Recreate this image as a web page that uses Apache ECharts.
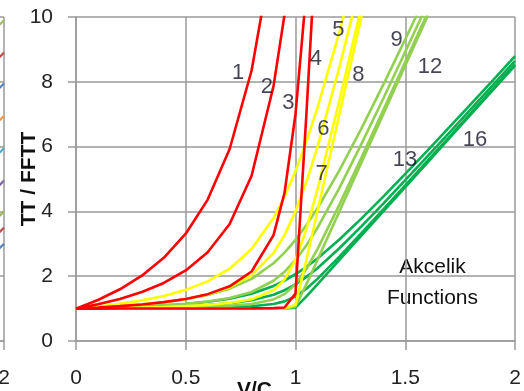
<!DOCTYPE html>
<html><head><meta charset="utf-8">
<script src="https://cdn.jsdelivr.net/npm/echarts@6/dist/echarts.min.js"></script>
<style>html,body{margin:0;padding:0;background:#fff}#c{width:524px;height:391px}</style>
</head><body><div id="c"></div>
<script>
// V/C sample points
const xs = [0,0.1,0.2,0.3,0.4,0.5,0.6,0.7,0.8,0.9,0.95,1.0,1.05,1.1,1.2,1.3,1.4,1.5,1.6,1.7,1.8,1.9,2.0];
// red group
const f1 = [1,1.266,1.596,2.016,2.566,3.311,4.364,5.926,8.349,12.18];
const f2 = [1,1.133,1.299,1.511,1.791,2.177,2.737,3.611,5.100,7.869,10.07,13.0];
const f3 = [1,1.033,1.075,1.128,1.199,1.299,1.446,1.687,2.145,3.270,4.573,7.0,10.84,15.7];
const f4 = [1,1.0,1.001,1.001,1.001,1.002,1.003,1.005,1.007,1.016,1.034,1.465,7.04,13.02];
// yellow group
const f5 = [1,1.067,1.149,1.254,1.391,1.578,1.841,2.231,2.837,3.795,4.453,5.243,6.162,7.196,9.532,12.107];
const f6 = [1,1.033,1.075,1.128,1.198,1.294,1.434,1.653,2.025,2.717,3.269,4.0,4.914,5.986,8.450,11.152];
const f7 = [1,1.008,1.019,1.032,1.050,1.075,1.111,1.172,1.286,1.568,1.893,2.5,3.460,4.674,7.421,10.314];
const f8 = [1,1.0,1.0,1.0,1.001,1.001,1.001,1.002,1.003,1.004,1.009,1.116,2.509,4.005,7.003,10.002,13.0];
// light green group
const f9  = [1,1.033,1.075,1.127,1.196,1.289,1.421,1.616,1.919,2.398,2.726,3.121,3.581,4.098,5.266,6.553,7.912,9.312,10.739];
const f10 = [1,1.017,1.037,1.064,1.099,1.147,1.217,1.326,1.512,1.859,2.134,2.5,2.957,3.493,4.725,6.076,7.486,8.926,10.384];
const f11 = [1,1.004,1.009,1.016,1.025,1.037,1.056,1.086,1.143,1.284,1.447,1.75,2.230,2.837,4.210,5.657,7.129,8.611,10.099];
const f12 = [1,1.0,1.0,1.0,1.0,1.0,1.001,1.001,1.001,1.002,1.004,1.058,1.755,2.502,4.001,5.501,7.001,8.501,10.0,11.5];
// dark green group
const f13 = [1,1.017,1.037,1.064,1.098,1.144,1.210,1.308,1.459,1.699,1.863,2.061,2.290,2.549,3.133,3.777,4.456,5.156,5.869,6.592,7.320,8.053,8.789];
const f14 = [1,1.008,1.019,1.032,1.049,1.074,1.109,1.163,1.256,1.429,1.567,1.75,1.979,2.246,2.862,3.538,4.243,4.963,5.692,6.426,7.164,7.905,8.647];
const f15 = [1,1.002,1.005,1.008,1.012,1.019,1.028,1.043,1.072,1.142,1.223,1.375,1.615,1.918,2.605,3.329,4.064,4.805,5.549,6.295,7.042,7.789,8.537];
const f16 = [1,1.0,1.0,1.0,1.0,1.0,1.0,1.0,1.001,1.001,1.002,1.029,1.377,1.751,2.501,3.250,4.0,4.750,5.5,6.25,7.0,7.75,8.5];

const curves = [f1,f2,f3,f4,f5,f6,f7,f8,f9,f10,f11,f12,f13,f14,f15,f16];
const groupColors = ['#FF0000','#FFFF00','#92D050','#00B050'];

// curve number labels
const labelText = ['1','2','3','4','5','6','7','8','9','12','13','16'];
const labelX = [0.739,0.869,0.967,1.093,1.195,1.127,1.119,1.286,1.461,1.613,1.499,1.818];
const labelY = [8.26,7.85,7.34,8.72,9.6,6.56,5.17,8.21,9.29,8.47,5.59,6.2];

const xTicks = ['0','0.5','1','1.5','2'];

// cropped neighbouring chart at the far left: line ends near its x = 2
const leftX = [1.975, 2.0];
const leftEndY = [9.9, 8.9, 7.95, 6.95, 5.95, 4.95, 4.0, 3.5, 3.0];
const leftColors = ['#9BBB59','#C0504D','#4F81BD','#F79646','#4BACC6','#8064A2','#9BBB59','#C0504D','#4F81BD'];

const font = 'Liberation Sans, Arial';
const gridGray = '#9a9a9a';

const series = [];
for (let i = curves.length - 1; i >= 0; i--) {
  series.push({
    type: 'line', name: String(i + 1), xAxisIndex: 0, yAxisIndex: 0,
    data: curves[i].map((v, k) => [xs[k], v]),
    showSymbol: false, symbol: 'none', clip: true,
    lineStyle: { color: groupColors[Math.floor(i / 4)], width: 2.6 },
    z: 3, animation: false
  });
}
series.push({
  type: 'scatter', symbolSize: 0, animation: false, z: 5, xAxisIndex: 0, yAxisIndex: 0,
  data: labelText.map((t, k) => ({ value: [labelX[k], labelY[k]], name: t })),
  label: { show: true, position: 'inside', formatter: p => p.name,
    fontFamily: font, fontSize: 22, color: '#15152a' }
});
leftEndY.forEach((y, k) => {
  series.push({
    type: 'line', xAxisIndex: 1, yAxisIndex: 1, symbol: 'none', clip: false, animation: false,
    data: [[leftX[0], y - 0.17], [leftX[1], y]],
    lineStyle: { color: leftColors[k], width: 2.2 }
  });
});

const axisCommon = {
  axisLine: { show: true, lineStyle: { color: gridGray, width: 1.5 } },
  splitLine: { show: true, lineStyle: { color: gridGray, width: 1.5 } }
};

const chart = echarts.init(document.getElementById('c'), null, { renderer: 'canvas' });
chart.setOption({
  backgroundColor: '#fff',
  animation: false,
  grid: [
    { left: 76, right: 9, top: 17, bottom: 50, containLabel: false, outerBoundsMode: 'none' },
    { left: -435, right: 520, top: 17, bottom: 50, containLabel: false, outerBoundsMode: 'none' }
  ],
  xAxis: [{
    gridIndex: 0, type: 'value', min: 0, max: 2, interval: 0.5, ...axisCommon,
    axisTick: { show: true, length: 9, lineStyle: { color: gridGray, width: 1.5 } },
    axisLabel: { margin: 27, fontFamily: font, fontSize: 21, color: '#222',
      formatter: v => xTicks[Math.round(v * 2)] },
    name: 'V/C', nameLocation: 'middle', nameGap: 39, nameMoveOverlap: false,
    nameTextStyle: { fontFamily: font, fontSize: 21, fontWeight: 'bold', color: '#111', padding: [0, 82, 0, 0] }
  }, {
    gridIndex: 1, type: 'value', min: 0, max: 2, interval: 0.5, ...axisCommon,
    axisTick: { show: true, length: 9, lineStyle: { color: gridGray, width: 1.5 } },
    axisLabel: { margin: 27, fontFamily: font, fontSize: 21, color: '#222',
      formatter: v => xTicks[Math.round(v * 2)] }
  }],
  yAxis: [{
    gridIndex: 0, type: 'value', min: 0, max: 10, interval: 2, ...axisCommon,
    axisTick: { show: true, length: 8, lineStyle: { color: gridGray, width: 1.5 } },
    axisLabel: { margin: 23, fontFamily: font, fontSize: 21, color: '#222' },
    name: 'TT / FFTT', nameLocation: 'middle', nameGap: 36, nameRotate: 90, nameMoveOverlap: false,
    nameTextStyle: { fontFamily: font, fontSize: 21, fontWeight: 'bold', color: '#111' }
  }, {
    gridIndex: 1, type: 'value', min: 0, max: 10, interval: 2, ...axisCommon,
    axisTick: { show: false }, axisLabel: { show: false }
  }],
  graphic: [{
    type: 'group', left: 367, top: 247, z: 10,
    children: [
      { type: 'rect', shape: { x: 0, y: 0, width: 131, height: 71 }, style: { fill: '#fff' } },
      { type: 'text', x: 65.5, y: 20, style: { text: 'Akcelik', fontFamily: font, fontSize: 21, fill: '#111', align: 'center', verticalAlign: 'middle' } },
      { type: 'text', x: 65.5, y: 51, style: { text: 'Functions', fontFamily: font, fontSize: 21, fill: '#111', align: 'center', verticalAlign: 'middle' } }
    ]
  }],
  series: series
});
</script>
</body></html>
